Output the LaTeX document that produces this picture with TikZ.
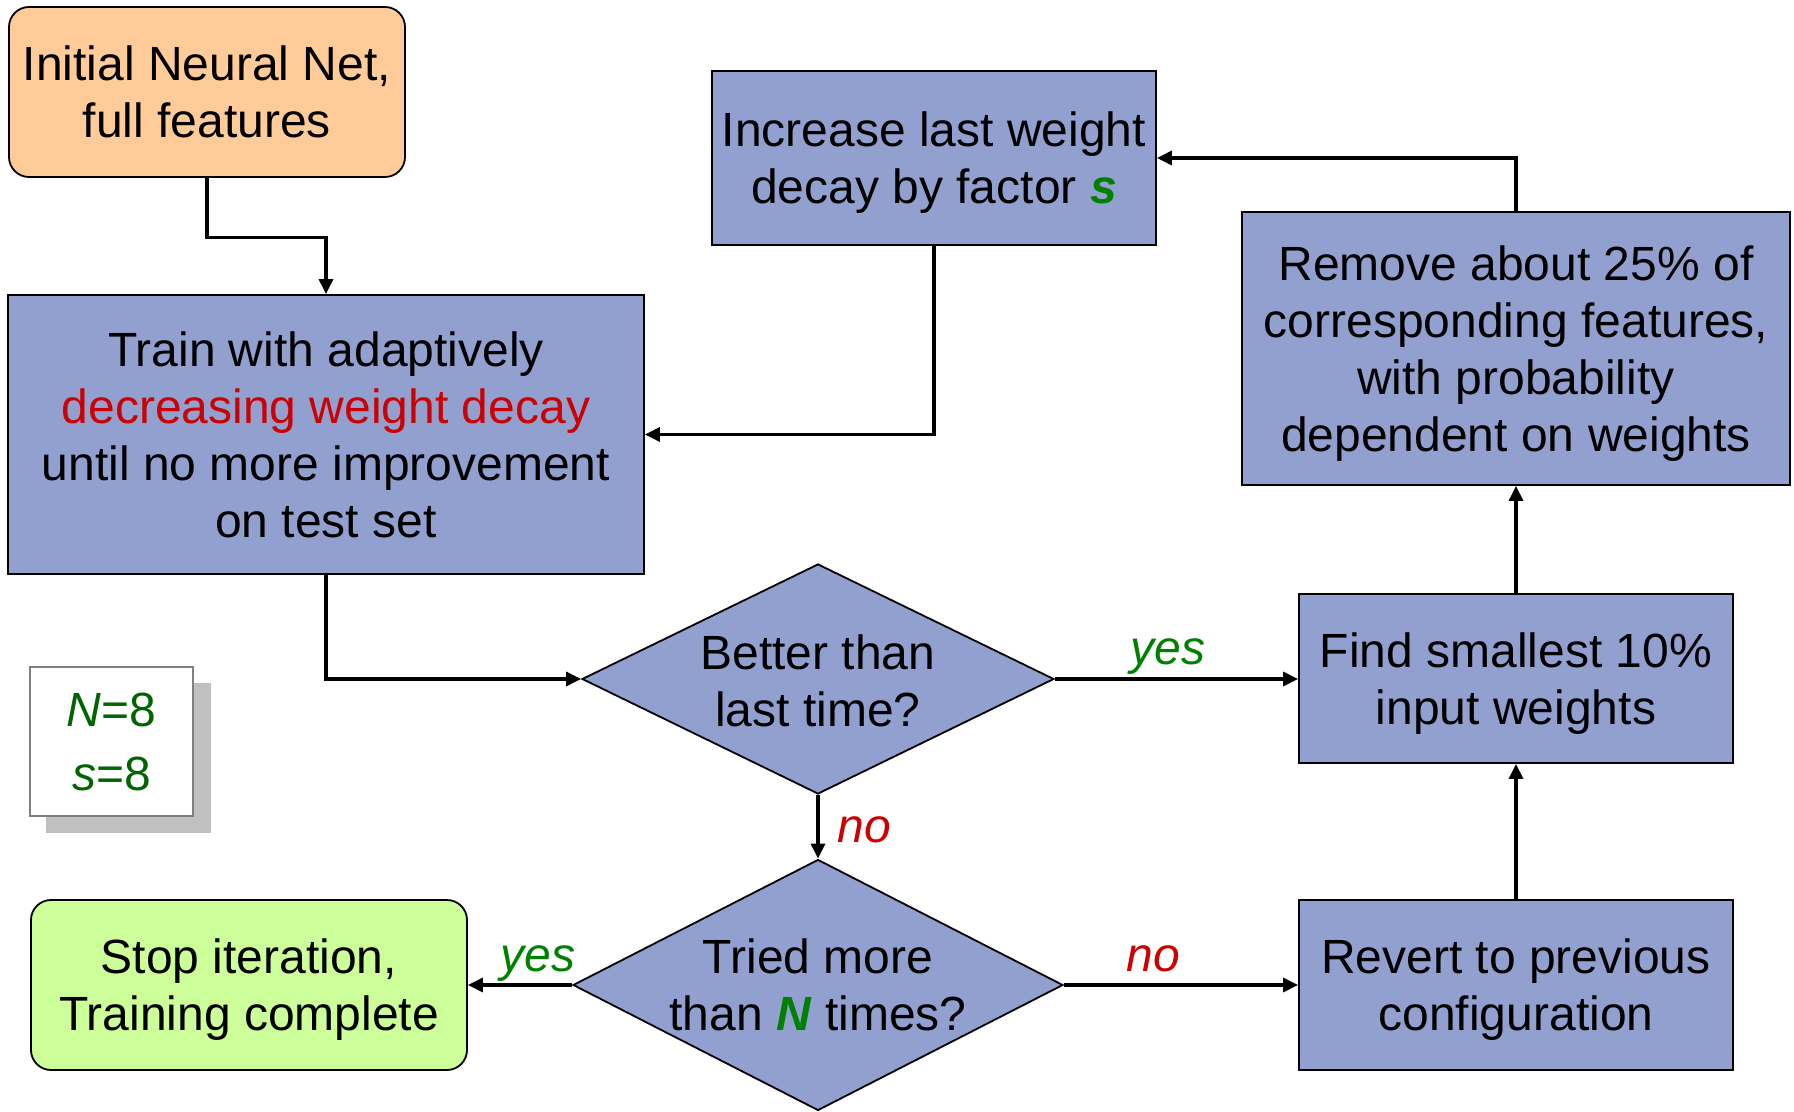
\documentclass[tikz,border=0pt]{standalone}
\usepackage{fontspec}
\setmainfont{Liberation Sans}
\usetikzlibrary{shapes.geometric,arrows.meta}
\definecolor{boxblue}{RGB}{146,160,208}
\definecolor{startorange}{RGB}{255,204,153}
\definecolor{endgreen}{RGB}{204,255,153}
\definecolor{yesgreen}{RGB}{0,128,0}
\definecolor{paramgreen}{RGB}{0,100,0}
\definecolor{nored}{RGB}{204,0,0}
\definecolor{shadowgray}{RGB}{192,192,192}
\definecolor{framegray}{RGB}{128,128,128}

\begin{document}
\begin{tikzpicture}[x=0.5pt,y=-0.5pt,
  every node/.style={font=\fontsize{24}{28.6}\selectfont, align=center, inner sep=0pt},
  % descenders of the last line do not shift a block of lines off centre
  nodepth/.style={text depth=0pt},
  proc/.style={draw=black, line width=0.9pt, fill=boxblue, nodepth},
  terminal/.style={draw=black, line width=0.9pt, rounded corners=10pt, nodepth},
  decision/.style={diamond, draw=black, line width=0.9pt, fill=boxblue, inner sep=0pt},
  dtext/.style={nodepth},
  conn/.style={line width=1.6pt, -{Triangle[length=7.5pt,width=7pt]}},
  yeslab/.style={text=yesgreen, font=\fontsize{24}{28.6}\selectfont\itshape, anchor=base},
  nolab/.style={text=nored, font=\fontsize{24}{28.6}\selectfont\itshape, anchor=base}
]
\useasboundingbox (0,0) rectangle (1794,1112);

% process boxes
\node[terminal, fill=startorange, minimum width=198pt, minimum height=85pt] (init) at (207,92)
  {Initial Neural Net,\\full features};
\node[proc, minimum width=318pt, minimum height=139.5pt] (train) at (326,434.5)
  {Train with adaptively\\\textcolor{nored}{decreasing weight decay}\\until no more improvement\\on test set};
\node[proc, minimum width=222pt, minimum height=87pt] (incr) at (934,158)
  {Increase last weight\\decay by factor \textcolor{yesgreen}{\textbf{\textit{s}}}};
\node[proc, minimum width=274pt, minimum height=136.5pt] (remove) at (1516,348.5)
  {Remove about 25\% of\\corresponding features,\\with probability\\dependent on weights};
\node[proc, minimum width=217pt, minimum height=84.5pt] (find) at (1516,678.5)
  {Find smallest 10\%\\input weights};
\node[proc, minimum width=217pt, minimum height=85pt] (revert) at (1516,985)
  {Revert to previous\\configuration};
\node[terminal, fill=endgreen, minimum width=218pt, minimum height=85pt] (stop) at (249,985)
  {Stop iteration,\\Training complete};

% decisions
\node[decision, minimum width=236pt, minimum height=115pt] (d1) at (818,679) {};
\node[dtext] (d1text) at (818,681) {Better than\\last time?};
\node[decision, minimum width=245pt, minimum height=125.5pt] (d2) at (818,985) {};
\node[dtext] (d2text) at (818,985) {Tried more\\than \textcolor{yesgreen}{\textbf{\textit{N}}} times?};

% parameter legend with drop shadow
\fill[shadowgray] (46,683) rectangle (211,833);
\node[draw=framegray, line width=0.9pt, fill=white, minimum width=81.5pt, minimum height=74.5pt,
      text=paramgreen, font=\fontsize{24}{32}\selectfont] (legend) at (111.5,741.5)
  {\textit{N}=8\\\textit{s}=8};

% connectors
\draw[conn] (init.south) -- ++(0,60) -| (train.north);
\draw[conn] (train.south) |- (d1.west);
\draw[conn] (d1.east) -- (d1.east -| find.west);
\draw[conn] (d1.south) -- (d2.north);
\draw[conn] (d2.west) -- (stop.east);
\draw[conn] (d2.east) -- (revert.west);
\draw[conn] (revert.north) -- (find.south);
\draw[conn] (find.north) -- (find.north |- remove.south);
\draw[conn] (remove.north) |- (incr.east);
\draw[conn] (incr.south) |- (train.east);

% branch labels
\node[yeslab] (yes1) at (1168,664) {yes};
\node[nolab] (no1) at (864,842) {no};
\node[yeslab] (yes2) at (538,971) {yes};
\node[nolab] (no2) at (1153,971) {no};
\end{tikzpicture}
\end{document}
